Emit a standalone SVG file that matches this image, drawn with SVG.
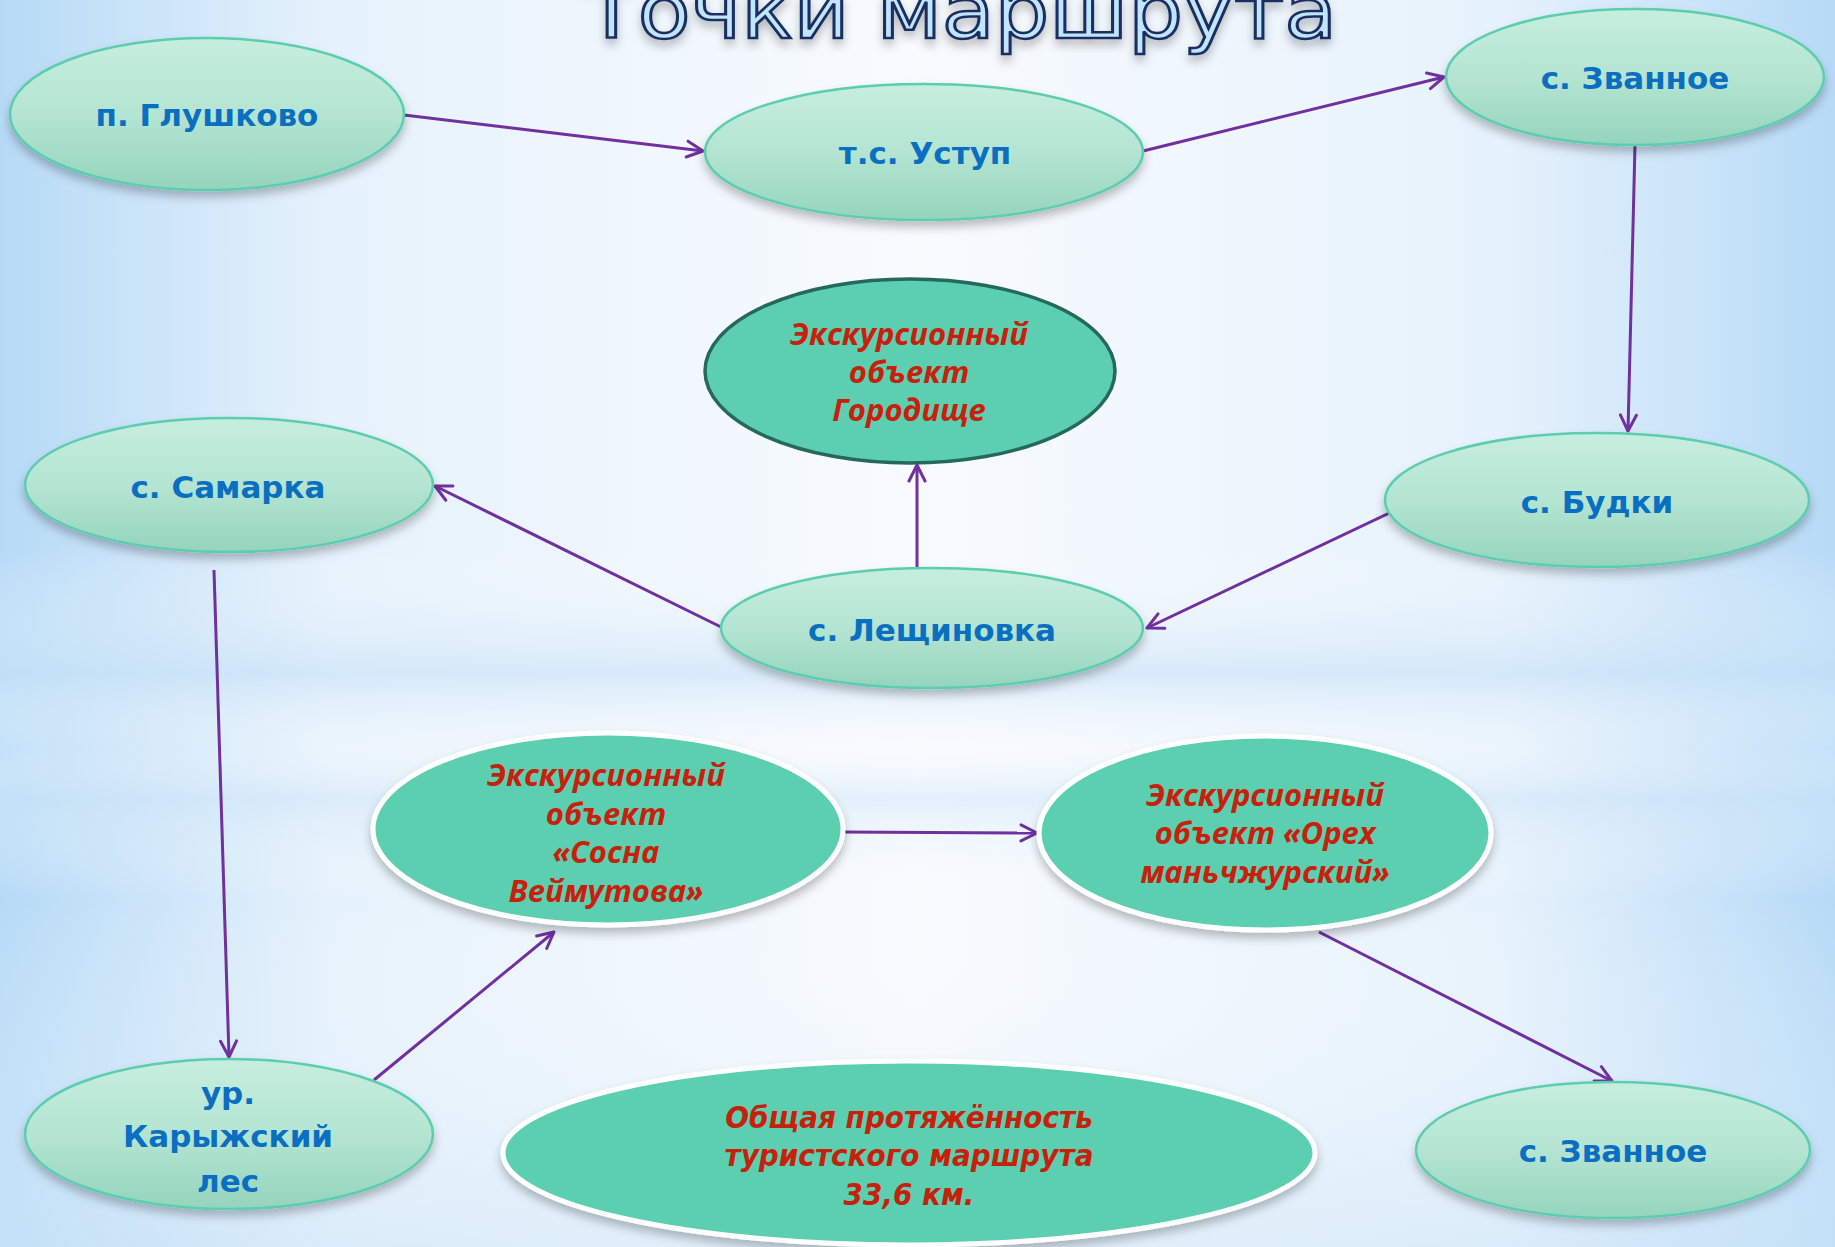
<svg xmlns="http://www.w3.org/2000/svg" width="1835" height="1247" viewBox="0 0 1835 1247">
<defs>
<linearGradient id="bgH" x1="0" y1="0" x2="1" y2="0">
<stop offset="0" stop-color="#b6daf6"/>
<stop offset="0.18" stop-color="#e6f2fc"/>
<stop offset="0.5" stop-color="#f8fbfe"/>
<stop offset="0.82" stop-color="#e6f2fc"/>
<stop offset="1" stop-color="#b6daf6"/>
</linearGradient>
<linearGradient id="bgV" x1="0" y1="0" x2="0" y2="1">
<stop offset="0" stop-color="#ffffff" stop-opacity="0"/>
<stop offset="0.44" stop-color="#ffffff" stop-opacity="0"/>
<stop offset="0.54" stop-color="#c6e2f6" stop-opacity="0.6"/>
<stop offset="0.6" stop-color="#ffffff" stop-opacity="0.2"/>
<stop offset="0.64" stop-color="#cfe6f7" stop-opacity="0.5"/>
<stop offset="0.72" stop-color="#ffffff" stop-opacity="0"/>
<stop offset="1" stop-color="#cfe6f7" stop-opacity="0.5"/>
</linearGradient>
<linearGradient id="nodeG" x1="0" y1="0" x2="0" y2="1">
<stop offset="0" stop-color="#c6eedf"/>
<stop offset="0.5" stop-color="#b4e5d2"/>
<stop offset="1" stop-color="#94d4bd"/>
</linearGradient>
<filter id="sh" x="-10%" y="-10%" width="120%" height="135%">
<feDropShadow dx="0" dy="6" stdDeviation="5" flood-color="#000" flood-opacity="0.25"/>
</filter>
<marker id="arr" viewBox="0 0 20 20" refX="18" refY="10" markerWidth="20" markerHeight="20" markerUnits="userSpaceOnUse" orient="auto">
<path d="M2,2 L18,10 L2,18" fill="none" stroke="#7030a0" stroke-width="3" stroke-linecap="round" stroke-linejoin="round"/>
</marker>
<style>
.n{fill:url(#nodeG);stroke:#5ccdad;stroke-width:2.5;filter:url(#sh)}
.r{fill:#5ccfb0;stroke:#ffffff;stroke-width:5;filter:url(#sh)}
.rd{fill:#5ccfb0;stroke:#25695a;stroke-width:3.5}
.b{font-family:"DejaVu Sans",Verdana,sans-serif;font-weight:bold;font-size:31px;fill:#0a6fc1;text-anchor:middle}
.t{font-family:"Open Sans","DejaVu Sans",sans-serif;font-weight:bold;font-style:italic;font-size:31px;fill:#c7210d;text-anchor:middle}
.tc{font-family:"Liberation Sans Narrow","DejaVu Sans Condensed","Open Sans",sans-serif;font-style:italic;font-weight:bold;font-size:31px;fill:#c7210d;text-anchor:middle}
.c{fill:none;stroke:#7030a0;stroke-width:3;marker-end:url(#arr)}
</style>
</defs>
<rect width="1835" height="1247" fill="url(#bgH)"/>
<rect width="1835" height="1247" fill="url(#bgV)"/>
<text x="961" y="38" font-family="DejaVu Sans Condensed,DejaVu Sans,sans-serif" font-size="78" textLength="752" lengthAdjust="spacingAndGlyphs" text-anchor="middle" fill="#bfe5ff" stroke="#1b2f5e" stroke-width="2.5" filter="url(#sh)">Точки маршрута</text>
<g id="connectors">
<line class="c" x1="404" y1="115" x2="703" y2="151"/>
<line class="c" x1="1143" y1="151" x2="1444" y2="77"/>
<line class="c" x1="1635" y1="145" x2="1628" y2="431"/>
<line class="c" x1="1400" y1="508" x2="1147" y2="628"/>
<line class="c" x1="917" y1="568" x2="917" y2="465"/>
<line class="c" x1="721" y1="627" x2="435" y2="486"/>
<line class="c" x1="214" y1="570" x2="229" y2="1057"/>
<line class="c" x1="374" y1="1080" x2="554" y2="932"/>
<line class="c" x1="841" y1="832" x2="1037" y2="833"/>
<line class="c" x1="1319" y1="932" x2="1612" y2="1081"/>
</g>
<g id="glushkovo"><ellipse class="n" cx="207" cy="114" rx="197" ry="76"/><text class="b" x="207" y="126">п. Глушково</text></g>
<g id="ustup"><ellipse class="n" cx="924" cy="152" rx="219" ry="68"/><text class="b" x="925" y="164">т.с. Уступ</text></g>
<g id="zvannoe1"><ellipse class="n" cx="1635" cy="77" rx="189" ry="68"/><text class="b" x="1635" y="89">с. Званное</text></g>
<g id="gorodishche"><ellipse class="rd" cx="910" cy="371" rx="205" ry="92"/>
<text class="t" x="909" y="345">Экскурсионный</text><text class="t" x="909" y="383">объект</text><text class="t" x="909" y="421">Городище</text></g>
<g id="samarka"><ellipse class="n" cx="229" cy="485" rx="204" ry="67"/><text class="b" x="228" y="498">с. Самарка</text></g>
<g id="budki"><ellipse class="n" cx="1597" cy="500" rx="212" ry="67"/><text class="b" x="1597" y="513">с. Будки</text></g>
<g id="leshchinovka"><ellipse class="n" cx="932" cy="628" rx="211" ry="60"/><text class="b" x="932" y="641">с. Лещиновка</text></g>
<g id="sosna"><ellipse class="r" cx="608" cy="829" rx="235" ry="96"/>
<text class="t" x="606" y="786">Экскурсионный</text><text class="t" x="606" y="825">объект</text><text class="t" x="606" y="863">«Сосна</text><text class="t" x="606" y="902">Веймутова»</text></g>
<g id="orekh"><ellipse class="r" cx="1265" cy="833" rx="226" ry="97"/>
<text class="t" x="1265" y="806">Экскурсионный</text><text class="t" x="1265" y="844">объект «Орех</text><text class="t" x="1265" y="883">маньчжурский»</text></g>
<g id="karyzhsky"><ellipse class="n" cx="229" cy="1134" rx="204" ry="75"/>
<text class="b" x="228" y="1104">ур.</text><text class="b" x="228" y="1147">Карыжский</text><text class="b" x="228" y="1192">лес</text></g>
<g id="total"><ellipse class="r" cx="909" cy="1153" rx="406" ry="92"/>
<text class="tc" x="909" y="1128">Общая протяжённость</text><text class="tc" x="909" y="1166">туристского маршрута</text><text class="tc" x="909" y="1205">33,6 км.</text></g>
<g id="zvannoe2"><ellipse class="n" cx="1613" cy="1150" rx="197" ry="68"/><text class="b" x="1613" y="1162">с. Званное</text></g>
</svg>
